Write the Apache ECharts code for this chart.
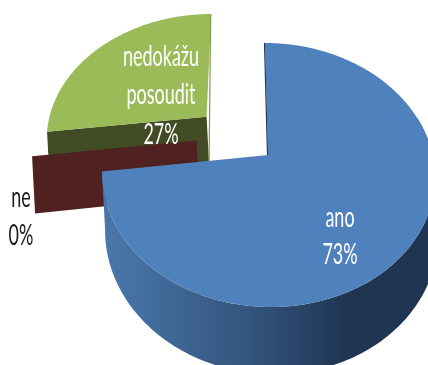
<!DOCTYPE html>
<html>
<head>
<meta charset="utf-8">
<style>html,body{margin:0;padding:0;background:#fff;overflow:hidden}#c{width:428px;height:365px}</style>
<script src="https://cdn.jsdelivr.net/npm/echarts@6/dist/echarts.min.js"></script>
</head>
<body>
<div id="c"></div>
<script>
// Survey answers
var categories = ['ano', 'ne', 'nedokážu posoudit'];
var values = [73, 0, 27];

// Projection of the tilted pie plane onto the screen
var CX = 268, CY = 155, KX = 164.5, KY = 129, PERSP = 0.1515, SKEW = 3, DEPTH = 57, DEPTH_X = 3;
function project(u, v, z) {
  var w = 1 - PERSP * v;
  return [CX + (KX * u + DEPTH_X * z) / w + SKEW * v, CY + (KY * v + DEPTH * z) / w];
}

// Per slice look: explosion offset in the pie plane, colours and paint order
var looks = [
  { ex: [0, 0], top: '#4f81bd', order: 3, labelAt: [340, 218, 255], labelColor: '#fff',
    wall: { type: 'linear', x: 105, y: 0, x2: 345, y2: 0, global: true, colorStops: [
      { offset: 0, color: '#4a77aa' }, { offset: 0.6, color: '#33557e' }, { offset: 1, color: '#1f3552' }] } },
  { ex: [-0.44, -0.115], top: '#4f2120', face: '#4f2120', order: 2, labelAt: [21, 198, 236], labelColor: '#1a1a1a' },
  { ex: [-0.385, -0.31], top: '#9bbb59', face: '#414b24', wallEdge: '#7f9c48', order: 1, labelAt: [161, 57, 95, 135], labelColor: '#fff' }
];

var total = values.reduce(function (a, b) { return a + b; }, 0);

function arcPoints(a0, a1, ex, z) {
  var pts = [], n = Math.max(2, Math.ceil(Math.abs(a1 - a0) / 0.02));
  for (var i = 0; i <= n; i++) {
    var a = a0 + (a1 - a0) * i / n;
    pts.push(project(Math.sin(a) + ex[0], -Math.cos(a) + ex[1], z));
  }
  return pts;
}

function renderSlice(params, api) {
  var idx = params.dataIndex, look = looks[idx], ex = look.ex;
  var before = 0;
  for (var i = 0; i < idx; i++) before += values[i];
  var a0 = before / total * 2 * Math.PI, a1 = (before + values[idx]) / total * 2 * Math.PI;
  var apexTop = project(ex[0], ex[1], 0), apexBot = project(ex[0], ex[1], 1);
  var z = look.order * 10, children = [];

  // Cut face at the start of the slice
  if (look.face) {
    var oT = project(Math.sin(a0) + ex[0], -Math.cos(a0) + ex[1], 0);
    var oB = project(Math.sin(a0) + ex[0], -Math.cos(a0) + ex[1], 1);
    children.push({ type: 'polygon', z2: z, shape: { points: [apexTop, oT, oB, apexBot] }, style: { fill: look.face } });
  }
  // Outer wall, only the part turned towards the viewer
  if (look.wall) {
    var lo = Math.max(a0, Math.PI * 0.4), hi = a1;
    var wt = arcPoints(lo, hi, ex, 0), wb = arcPoints(lo, hi, ex, 1).reverse();
    children.push({ type: 'polygon', z2: z, shape: { points: wt.concat(wb) }, style: { fill: look.wall } });
  }
  // Top surface, with a thin edge where the far cut is seen almost edge-on
  if (a1 > a0) {
    var topPts = [apexTop].concat(arcPoints(a0, a1, ex, 0));
    children.push({ type: 'polygon', z2: z + 1, shape: { points: topPts }, style: { fill: look.top } });
    var far = look.wallEdge ? arcPoints(a1, a1, ex, 0)[0] : arcPoints(a0, a0, ex, 0)[0];
    var near = look.wallEdge ? apexBot : apexTop;
    children.push({ type: 'line', z2: z + 2,
      shape: { x1: near[0] - 0.5, y1: near[1], x2: far[0] - 0.5, y2: far[1] },
      style: { stroke: look.wallEdge || '#24364f', lineWidth: 1.2 } });
  }
  // Label: category lines followed by the share
  var lines = categories[idx].split(' ').concat([Math.round(values[idx] / total * 100) + '%']);
  lines.forEach(function (t, i) {
    children.push({ type: 'text', z2: 100, x: look.labelAt[0], y: look.labelAt[i + 1], scaleX: 0.78, scaleY: 1.25,
      style: { text: t, fill: look.labelColor, align: 'center', verticalAlign: 'middle',
        font: '23px Lato, "Liberation Sans", sans-serif' } });
  });
  return { type: 'group', children: children };
}

var chart = echarts.init(document.getElementById('c'), null, { renderer: 'canvas' });
chart.setOption({
  animation: false,
  series: [{
    type: 'custom',
    coordinateSystem: 'none',
    renderItem: renderSlice,
    data: categories.map(function (c, i) { return { name: c, value: values[i] }; })
  }]
});
</script>
</body>
</html>
